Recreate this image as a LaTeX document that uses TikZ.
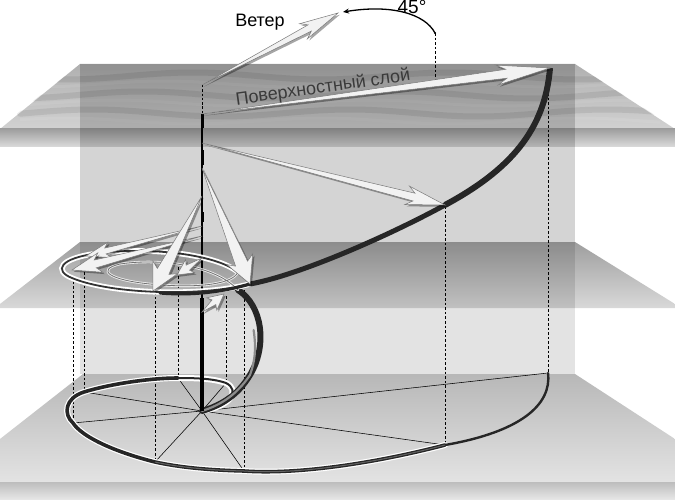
\documentclass[tikz,border=0pt]{standalone}
\usepackage{fontspec}
\setmainfont{Liberation Sans}
\usetikzlibrary{calc,shadows,arrows.meta}
\definecolor{ribdark}{HTML}{262626}
\definecolor{arrfill}{HTML}{F2F2F2}
\definecolor{arredge}{HTML}{7A7A7A}
\definecolor{labelgray}{HTML}{3A3A3A}
\tikzset{
  arrowsty/.style={fill=arrfill, draw=arredge, line width=0.5pt, line join=miter,
    drop shadow={shadow xshift=1.8pt, shadow yshift=-1.8pt, opacity=0.35, fill=black}},
  dashv/.style={draw=black, line width=0.6pt, dash pattern=on 2.6pt off 2pt},
  radial/.style={draw=black, line width=0.55pt},
  wavesty/.style={line width=6pt, line cap=round},
}
\newcommand\ekarrow[6][]{%
  \path (#2) coordinate (ekT) (#3) coordinate (ekH);
  \path ($(ekH)!#4!(ekT)$) coordinate (ekB) ($(ekH)!1.22*#4!(ekT)$) coordinate (ekC);
  \filldraw[arrowsty,#1] (ekT) -- ($(ekB)!#5!90:(ekH)$) -- ($(ekC)!#6!90:(ekH)$) -- (ekH)
     -- ($(ekC)!#6!-90:(ekH)$) -- ($(ekB)!#5!-90:(ekH)$) -- cycle;
}
\begin{document}
\begin{tikzpicture}[x=1pt,y=-1pt]
\useasboundingbox (0,0) rectangle (675,500);
\fill[white] (0,0) rectangle (675,500);

% ---------- coordinates ----------
\coordinate (hub) at (202,411);
\coordinate (axtop) at (202,85);
\coordinate (w) at (338,13);
\coordinate (arcL) at (343,12);
\coordinate (a45) at (435,33);
\coordinate (a45b) at (435,80);
\coordinate (t0) at (202,114); \coordinate (p0) at (550,68);
\coordinate (t1) at (202,143); \coordinate (p1) at (445,205);
\coordinate (t2) at (202,168); \coordinate (p2) at (250,284);
\coordinate (t3) at (202,196); \coordinate (p3) at (153,291);
\coordinate (t4) at (202,236); \coordinate (p4) at (72,270);
\coordinate (t5) at (202,226); \coordinate (p5) at (86,256);
\coordinate (t6) at (202,258); \coordinate (p6) at (177,275);
\coordinate (t7) at (202,312); \coordinate (p7) at (224,294);
\coordinate (b0) at (548,373);
\coordinate (b1) at (445,445);
\coordinate (b2) at (244,471);
\coordinate (b3) at (155,462);
\coordinate (b4) at (73,423);
\coordinate (b5) at (84,392);
\coordinate (b6) at (178,378);
\coordinate (b7) at (226,383);
\coordinate (q0) at (548,70);
\coordinate (q1) at (445,206);
\coordinate (q2) at (244,290);
\coordinate (q3) at (155,292);
\coordinate (q4) at (73,277);
\coordinate (q5) at (84,272);
\coordinate (q6) at (178,267);
\coordinate (q7) at (226,296);
\coordinate (s0) at (238,290);
\coordinate (s1) at (250,375);
\coordinate (r1) at (72,278);
\coordinate (r2) at (100,253);
\coordinate (r3) at (238,272);

% ---------- planes ----------
\shade[top color=black!28, bottom color=black!11] (83,374) -- (575,374) -- (675,439) -- (675,482) -- (0,482) -- (0,439) -- cycle;
\shade[top color=black!26, bottom color=black!9] (0,482) rectangle (675,500);
\shade[top color=black!38, bottom color=black!15] (80,242) -- (575,242) -- (675,304) -- (675,308) -- (0,308) -- (0,304) -- cycle;
\shade[top color=black!31, bottom color=black!18] (80,64) -- (575,64) -- (675,129) -- (0,129) -- cycle;
\shade[top color=black!38, bottom color=black!14] (0,129) rectangle (675,147);
% waves
\begin{scope}
\clip (80,64) -- (575,64) -- (680,131) -- (-5,131) -- cycle;
\foreach \yy/\ph in {76/0, 95/70, 113/140} {
  \draw[wavesty, black, opacity=0.08] plot[smooth, domain=20:660, samples=40] (\x, {\yy + 3.5*sin(1.4*\x + \ph)});
  \draw[line width=3pt, white, opacity=0.08] plot[smooth, domain=20:660, samples=40] (\x, {\yy + 8 + 3*sin(1.4*\x + \ph + 40)});
}
\end{scope}
% back wall
\fill[black, opacity=0.17] (80,64) rectangle (575,242);
\fill[black, opacity=0.11] (80,242) rectangle (575,374);

% ---------- dashed verticals ----------
\draw[dashv] (q0) -- (b0);
\draw[dashv] (q1) -- (b1);
\draw[dashv] (q2) -- (b2);
\draw[dashv] (q3) -- (b3);
\draw[dashv] (q4) -- (b4);
\draw[dashv] (q5) -- (b5);
\draw[dashv] (q6) -- (b6);
\draw[dashv] (q7) -- (b7);
\draw[dashv] (a45) -- (a45b);

% ---------- radial lines ----------
\foreach \b in {b0,b1,b2,b3,b4,b5,b6,b7} { \draw[radial] (hub) -- (\b); }

% ---------- bottom spiral ----------
\draw[white, line width=6pt, line cap=round]
  (b1) .. controls (380,462) and (300,475) .. (b2)
  .. controls (205,470) and (178,467) .. (b3)
  .. controls (115,452) and (82,437) .. (b4)
  .. controls (63,414) and (65,398) .. (b5)
  .. controls (110,384) and (150,378) .. (b6)
  .. controls (200,378) and (215,379) .. (b7)
  .. controls (240,390) and (232,406) .. (hub);
\draw[ribdark, line width=2.4pt, line cap=round] (b0) .. controls (552,405) and (520,432) .. (b1);
\draw[ribdark, line width=3.6pt, line cap=round]
  (b1) .. controls (380,462) and (300,475) .. (b2)
  .. controls (205,470) and (178,467) .. (b3)
  .. controls (115,452) and (82,437) .. (b4)
  .. controls (63,414) and (65,398) .. (b5)
  .. controls (110,384) and (150,378) .. (b6);
\draw[ribdark, line width=2pt, line cap=round]
  (b6) .. controls (200,378) and (215,379) .. (b7)
  .. controls (240,390) and (232,406) .. (hub);
\draw[black!45, line width=1pt, opacity=0.6]
  (b1) .. controls (380,462) and (300,475) .. (b2)
  .. controls (205,470) and (178,467) .. (b3);

% ---------- S ribbon ----------
\draw[ribdark, line width=6pt, line cap=round] (s0) .. controls (262,305) and (268,345) .. (s1) .. controls (238,395) and (222,405) .. (hub);
\draw[black!45, line width=2.2pt, line cap=round, xshift=-1.4pt] (255,330) .. controls (258,350) and (256,362) .. (s1) .. controls (238,395) and (222,405) .. (hub);

% ---------- axis ----------
\draw[black, line width=0.9pt, dash pattern=on 2.5pt off 1.8pt] (axtop) -- (t0);
\draw[black, line width=1.6pt] (t0) -- (hub);
\draw[black, line width=3.4pt] (202,298) -- (hub);
\draw[black, line width=3pt] (202,114) -- (202,128);
\draw[black, line width=3pt] (202,150) -- (202,165);
\draw[black, line width=3pt] (202,212) -- (202,222);

% ---------- middle rings ----------
\draw[white, line width=5.5pt, line cap=round]
  (p2) .. controls (200,297) and (110,294) .. (r1)
  .. controls (54,271) and (58,258) .. (r2)
  .. controls (150,247) and (215,254) .. (r3);
\draw[black!80, line width=1.8pt, line cap=round]
  (p2) .. controls (200,297) and (110,294) .. (r1)
  .. controls (54,271) and (58,258) .. (r2)
  .. controls (150,247) and (215,254) .. (r3);
\draw[white, line width=2.5pt, line cap=round, opacity=0.8]
  (r3) .. controls (232,286) and (190,288) .. (150,284)
  .. controls (110,280) and (95,270) .. (120,264)
  .. controls (160,258) and (215,265) .. (s0);
\draw[black!55, line width=0.8pt, line cap=round]
  (r3) .. controls (232,286) and (190,288) .. (150,284)
  .. controls (110,280) and (95,270) .. (120,264)
  .. controls (160,258) and (215,265) .. (s0);

% ---------- upper ribbon ----------
\draw[ribdark, line width=6pt] (p0) .. controls (545,130) and (510,170) .. (p1);
\draw[ribdark, line width=5pt, line cap=round] (p1) .. controls (390,235) and (300,275) .. (p2);
\draw[ribdark, line width=3.2pt, line cap=round] (p2) .. controls (215,294) and (185,295) .. (160,293);

% ---------- arrows ----------
\ekarrow{t7}{p7}{13pt}{3pt}{8pt}
\ekarrow{t6}{p6}{13pt}{3pt}{8pt}
\ekarrow{t5}{p5}{20pt}{3pt}{8pt}
\ekarrow{t4}{p4}{24pt}{4pt}{10pt}
\ekarrow{t3}{p3}{22pt}{6.5pt}{14pt}
\ekarrow{t2}{p2}{22pt}{6.5pt}{14pt}
\ekarrow{t1}{p1}{32pt}{4pt}{9.5pt}
\ekarrow{t0}{p0}{44pt}{4.5pt}{10pt}
\ekarrow{axtop}{w}{32pt}{3.5pt}{8.5pt}

% ---------- 45 deg arc ----------
\draw[black, line width=1.3pt, -{Stealth[length=6pt,width=5pt]}] (a45) .. controls (425,14) and (392,4) .. (arcL);
\fill[black] (a45) circle (1.2pt);

% ---------- labels ----------
\node[font=\fontsize{18}{21}\selectfont] (lw) at (260,22) {Ветер};
\node[font=\fontsize{19}{22}\selectfont] (l45) at (412,7) {45°};
\node[font=\fontsize{18}{21}\selectfont, text=labelgray, rotate=8] (ls) at (323,88) {Поверхностный слой};
\end{tikzpicture}
\end{document}
